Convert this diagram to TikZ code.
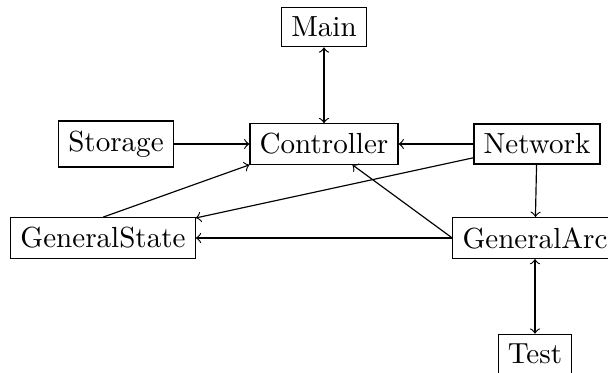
\documentclass[tikz,border=0pt]{standalone}
\begin{document}
\begin{tikzpicture}[x=0.344pt,y=-0.344pt,
  box/.style={draw,rectangle},
  conn/.style={->}]
\useasboundingbox (0,0) rectangle (608,373);
\node[box] (main) at (324,27) {Main};
\node[box] (ctrl) at (324,144) {Controller};
\node[box] (stor) at (116,144) {Storage};
\node[box] (net) at (537,144) {Network};
\node[box] (gs) at (103,238) {GeneralState};
\node[box] (ga) at (535,238) {GeneralArc};
\node[box] (test) at (535,354) {Test};
\draw[<->] (main) -- (ctrl);
\draw[conn] (stor) -- (ctrl);
\draw[conn] (net) -- (ctrl);
\draw[conn] (net) -- (ga);
\draw[conn] (net) -- (gs);
\draw[conn] (gs.north) -- (ctrl.south west);
\draw[conn] (ga.west) -- (ctrl);
\draw[conn] (ga) -- (gs);
\draw[<->] (ga) -- (test);
\end{tikzpicture}
\end{document}
